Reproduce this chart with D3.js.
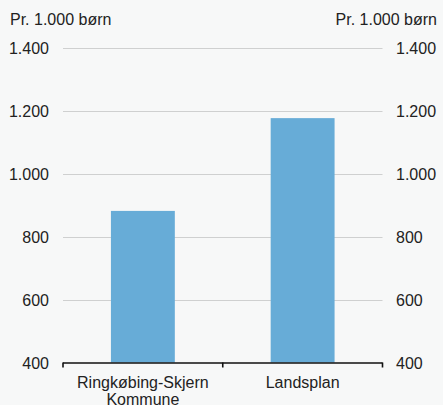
<!DOCTYPE html>
<html><head><meta charset="utf-8">
<script src="https://cdn.jsdelivr.net/npm/d3@7"></script>
<style>html,body{margin:0;padding:0;background:#f7f8f8;}svg{display:block;}</style>
</head><body>
<svg id="c" width="443" height="405"></svg>
<script>
const categories = ["Ringkøbing-Skjern Kommune", "Landsplan"];
const values = [882, 1177];
const tickValues = [400, 600, 800, 1000, 1200, 1400];
const unitLabel = "Pr. 1.000 børn";

(function () {
const svg = d3.select("#c");
const W = 443, H = 405;
const mLeft = 63, mRight = 382.5, mTop = 48, mBottom = 362.5;
svg.append("rect").attr("width", W).attr("height", H).attr("fill", "#f7f8f8");

const x = d3.scaleBand().domain(categories).range([mLeft, mRight]).paddingInner(0.6).paddingOuter(0.3);
const y = d3.scaleLinear().domain([400, 1400]).range([mBottom, mTop]);
const fmt = v => d3.format(",")(v).replace(/,/g, ".");
const font = "'Liberation Sans', Arial, Helvetica, sans-serif";
const fs = 16;

// gridlines
svg.append("g").selectAll("line").data(tickValues.filter(t => t > 400)).join("line")
  .attr("x1", mLeft).attr("x2", mRight)
  .attr("y1", d => Math.round(y(d)) + 0.5).attr("y2", d => Math.round(y(d)) + 0.5)
  .attr("stroke", "#cfd0d0").attr("stroke-width", 1.2);

// bars
svg.append("g").selectAll("rect").data(values).join("rect")
  .attr("x", (d, i) => x(categories[i]))
  .attr("width", x.bandwidth())
  .attr("y", d => y(d))
  .attr("height", d => y(400) - y(d))
  .attr("fill", "#67acd7");

const leftAxis = d3.axisLeft(y).tickValues(tickValues).tickSize(0).tickPadding(14).tickFormat(fmt);
const gl = svg.append("g").attr("transform", `translate(${mLeft},0)`).call(leftAxis);
gl.select(".domain").remove();
gl.selectAll("text").attr("font-family", font).attr("font-size", fs).attr("fill", "#222").attr("dy", "0.36em");

const rightAxis = d3.axisRight(y).tickValues(tickValues).tickSize(0).tickPadding(13.5).tickFormat(fmt);
const gr = svg.append("g").attr("transform", `translate(${mRight},0)`).call(rightAxis);
gr.select(".domain").remove();
gr.selectAll("text").attr("font-family", font).attr("font-size", fs).attr("fill", "#222").attr("dy", "0.36em");

// bottom axis
const gx = svg.append("g").attr("transform", `translate(0,${mBottom})`);
gx.append("line").attr("x1", mLeft).attr("x2", mRight).attr("y1", 0.5).attr("y2", 0.5)
  .attr("stroke", "#111").attr("stroke-width", 1.6);
const sepTicks = [mLeft, (x(categories[0]) + x.bandwidth() + x(categories[1])) / 2, mRight];
gx.selectAll("line.t").data(sepTicks).join("line").attr("class", "t")
  .attr("x1", d => d).attr("x2", d => d).attr("y1", 0).attr("y2", 5)
  .attr("stroke", "#111").attr("stroke-width", 1.6);

// category labels
const lines = { "Ringkøbing-Skjern Kommune": ["Ringkøbing-Skjern", "Kommune"], "Landsplan": ["Landsplan"] };
categories.forEach(c => {
  const cx = x(c) + x.bandwidth() / 2;
  const t = svg.append("text").attr("x", cx).attr("y", mBottom + 25)
    .attr("text-anchor", "middle").attr("font-family", font).attr("font-size", fs).attr("fill", "#222");
  lines[c].forEach((l, i) => t.append("tspan").attr("x", cx).attr("dy", i ? 17.7 : 0).text(l));
});

// unit labels
svg.append("text").attr("x", 10).attr("y", 25).attr("font-family", font).attr("font-size", fs).attr("fill", "#222").text(unitLabel);
svg.append("text").attr("x", 437).attr("y", 25).attr("text-anchor", "end").attr("font-family", font).attr("font-size", fs).attr("fill", "#222").text(unitLabel);
})();
</script>
</body></html>
